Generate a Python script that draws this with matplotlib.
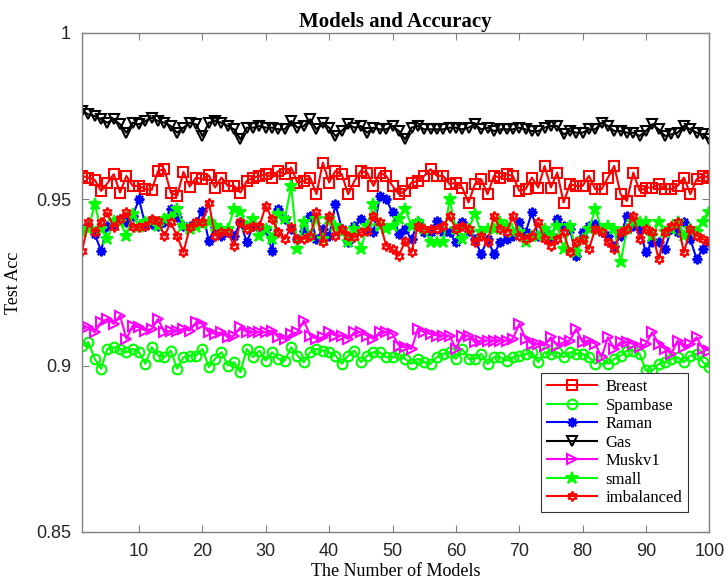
import numpy as np
import matplotlib
matplotlib.use('Agg')
import matplotlib.pyplot as plt

# x positions: model count 1..100
n_models = np.arange(1, 101)

breast = [0.957, 0.9565, 0.9558, 0.9525, 0.9548, 0.9575, 0.952, 0.957, 0.954, 0.954,
          0.953, 0.9528, 0.9585, 0.959, 0.952, 0.951, 0.9582, 0.9538, 0.9565, 0.956,
          0.9572, 0.9535, 0.9565,
          0.954, 0.954, 0.952, 0.9555, 0.9565, 0.957, 0.9575, 0.9565, 0.9585, 0.9575,
          0.9595, 0.955, 0.9555, 0.9565, 0.9515, 0.961, 0.955, 0.9585, 0.9575, 0.9515,
          0.9555, 0.9585, 0.958, 0.954, 0.958,
          0.957, 0.954, 0.9515, 0.9525, 0.955, 0.9555, 0.957, 0.959, 0.957, 0.957,
          0.9545, 0.955, 0.9535, 0.949, 0.9545, 0.956, 0.9515, 0.957, 0.9565, 0.9575,
          0.957, 0.9525, 0.953, 0.9565, 0.9535, 0.960,
          0.9535, 0.958, 0.949, 0.9545, 0.954, 0.954, 0.957, 0.953, 0.953, 0.9565,
          0.960, 0.9515, 0.9495, 0.958, 0.9525, 0.9535, 0.9535, 0.9545, 0.953, 0.953,
          0.954, 0.9565, 0.9515, 0.956, 0.957, 0.9565]

spambase = [0.906, 0.907, 0.902, 0.899, 0.905, 0.9055, 0.905, 0.904, 0.905, 0.904,
            0.9005, 0.9055, 0.903, 0.9025, 0.9045, 0.899, 0.9025, 0.903, 0.903, 0.905,
            0.8995, 0.902, 0.904,
            0.900, 0.901, 0.898, 0.905, 0.9025, 0.9045, 0.9015, 0.904, 0.902, 0.9015,
            0.9055, 0.903, 0.901, 0.904, 0.905, 0.9045, 0.904, 0.903, 0.9005, 0.903,
            0.9045, 0.901, 0.903, 0.904, 0.904,
            0.9025, 0.9025, 0.9035, 0.902, 0.9005, 0.902, 0.901, 0.9005, 0.9025, 0.9035,
            0.904, 0.902, 0.905, 0.902, 0.902, 0.9035, 0.9005, 0.9025, 0.9025, 0.9015,
            0.9025, 0.903, 0.9035, 0.904, 0.901, 0.904,
            0.9035, 0.904, 0.9025, 0.904, 0.9035, 0.9035, 0.9025, 0.9005, 0.902, 0.9005,
            0.902, 0.903, 0.9045, 0.9045, 0.9035, 0.8985, 0.8985, 0.9005, 0.901, 0.902,
            0.9025, 0.901, 0.903, 0.9035, 0.901, 0.8995]

raman = [0.941, 0.942, 0.9395, 0.9345, 0.942, 0.9425, 0.944, 0.943, 0.945, 0.950,
         0.942, 0.9425, 0.942, 0.943, 0.947, 0.9445, 0.942, 0.942, 0.943, 0.9465,
         0.9375, 0.9415, 0.939,
         0.940, 0.939, 0.943, 0.937, 0.942, 0.9415, 0.941, 0.9345, 0.947, 0.944,
         0.941, 0.938, 0.9405, 0.945, 0.938, 0.941, 0.939, 0.9485, 0.941, 0.937,
         0.942, 0.944, 0.941, 0.940, 0.951,
         0.950, 0.946, 0.9395, 0.941, 0.938, 0.943, 0.940, 0.940, 0.9435, 0.940,
         0.940, 0.937, 0.943, 0.9405, 0.938, 0.9335, 0.938, 0.9335, 0.937, 0.938,
         0.939, 0.943, 0.940, 0.946, 0.939, 0.940,
         0.938, 0.944, 0.942, 0.941, 0.933, 0.940, 0.942, 0.9425, 0.940, 0.939,
         0.936, 0.939, 0.945, 0.942, 0.941, 0.934, 0.937, 0.937, 0.935, 0.941,
         0.940, 0.943, 0.938, 0.932, 0.935, 0.937]

gas = [0.9765, 0.9755, 0.975, 0.974, 0.973, 0.974, 0.9725, 0.970, 0.973, 0.9725,
       0.9735, 0.9745, 0.9735, 0.973, 0.972, 0.970, 0.9715, 0.973, 0.9725, 0.969,
       0.973, 0.9735, 0.973,
       0.972, 0.971, 0.968, 0.9715, 0.9715, 0.972, 0.9715, 0.9715, 0.971, 0.971,
       0.9735, 0.9715, 0.972, 0.974, 0.971, 0.973, 0.9715, 0.969, 0.9705, 0.9725,
       0.9715, 0.972, 0.970, 0.9715, 0.971,
       0.971, 0.972, 0.9705, 0.968, 0.9715, 0.972, 0.971, 0.971, 0.971, 0.971,
       0.9715, 0.9715, 0.971, 0.9715, 0.9725, 0.971, 0.9715, 0.9705, 0.971, 0.971,
       0.971, 0.9715, 0.971, 0.9705, 0.9705, 0.9715,
       0.972, 0.972, 0.9695, 0.9705, 0.970, 0.970, 0.971, 0.971, 0.973, 0.972,
       0.9705, 0.9705, 0.970, 0.970, 0.969, 0.9705, 0.9725, 0.971, 0.969, 0.9695,
       0.970, 0.972, 0.971, 0.970, 0.9695, 0.968]

muskv1 = [0.9115, 0.9115, 0.910, 0.913, 0.914, 0.9125, 0.915, 0.908, 0.912, 0.9115,
          0.9105, 0.911, 0.914, 0.910, 0.9105, 0.9105, 0.911, 0.9105, 0.913, 0.9125,
          0.910, 0.9095, 0.910,
          0.9085, 0.909, 0.9115, 0.910, 0.910, 0.910, 0.910, 0.9105, 0.9085, 0.908,
          0.9095, 0.910, 0.9135, 0.909, 0.908, 0.9085, 0.910, 0.909, 0.909, 0.908,
          0.910, 0.910, 0.909, 0.908, 0.910,
          0.910, 0.9095, 0.906, 0.9055, 0.905, 0.911, 0.910, 0.9095, 0.909, 0.909,
          0.909, 0.905, 0.909, 0.909, 0.907, 0.9075, 0.9075, 0.9075, 0.9075, 0.9075,
          0.908, 0.9125, 0.908, 0.9065, 0.9065, 0.906,
          0.9085, 0.906, 0.907, 0.9075, 0.911, 0.907, 0.9075, 0.9065, 0.9025, 0.9085,
          0.905, 0.907, 0.907, 0.9065, 0.9055, 0.9065, 0.910, 0.9065, 0.905, 0.9035,
          0.9075, 0.9055, 0.9065, 0.9085, 0.905, 0.9045]

small = [0.940, 0.941, 0.9485, 0.941, 0.938, 0.9435, 0.943, 0.939, 0.9455, 0.9415,
         0.943, 0.9435, 0.942, 0.944, 0.9445, 0.947, 0.942, 0.941, 0.9415, 0.9425,
         0.943, 0.942, 0.941,
         0.941, 0.947, 0.946, 0.942, 0.944, 0.939, 0.941, 0.938, 0.9455, 0.944,
         0.954, 0.935, 0.943, 0.939, 0.944, 0.938, 0.944, 0.942, 0.940, 0.937,
         0.941, 0.935, 0.942, 0.9485, 0.942,
         0.941, 0.942, 0.944, 0.947, 0.942, 0.943, 0.941, 0.937, 0.937, 0.937,
         0.950, 0.941, 0.938, 0.941, 0.9455, 0.940, 0.941, 0.941, 0.943, 0.942,
         0.940, 0.940, 0.937, 0.939, 0.939, 0.941,
         0.939, 0.942, 0.935, 0.942, 0.934, 0.938, 0.941, 0.947, 0.941, 0.942,
         0.941, 0.931, 0.941, 0.943, 0.943, 0.943, 0.939, 0.943, 0.940, 0.941,
         0.943, 0.939, 0.941, 0.940, 0.943, 0.946]

imbalanced = [0.9345, 0.943, 0.940, 0.943, 0.946, 0.9415, 0.944, 0.946, 0.9415, 0.9415,
              0.942, 0.944, 0.9435, 0.939, 0.943, 0.939, 0.934, 0.9415, 0.943, 0.943,
              0.949, 0.939, 0.940,
              0.940, 0.936, 0.943, 0.941, 0.942, 0.942, 0.948, 0.944, 0.940, 0.938,
              0.9415, 0.938, 0.938, 0.939, 0.946, 0.937, 0.945, 0.939, 0.941, 0.939,
              0.9385, 0.940, 0.9405, 0.945, 0.943,
              0.936, 0.935, 0.933, 0.9375, 0.934, 0.942, 0.941, 0.941, 0.941, 0.942,
              0.945, 0.941, 0.942, 0.941, 0.937, 0.939, 0.937, 0.945, 0.941, 0.940,
              0.945, 0.939, 0.938, 0.939, 0.943, 0.938,
              0.936, 0.938, 0.940, 0.934, 0.937, 0.938, 0.935, 0.941, 0.940, 0.937,
              0.935, 0.940, 0.941, 0.945, 0.938, 0.941, 0.940, 0.932, 0.940, 0.942,
              0.943, 0.934, 0.941, 0.939, 0.938, 0.937]

series = [
    ('Breast',     breast,     (1, 0, 0), 's',       'none'),
    ('Spambase',   spambase,   (0, 1, 0), 'o',       'none'),
    ('Raman',      raman,      (0, 0, 1), (8, 2, 0), 'none'),
    ('Gas',        gas,        (0, 0, 0), 'v',       'none'),
    ('Muskv1',     muskv1,     (1, 0, 1), '>',       'none'),
    ('small',      small,      (0, 1, 0), '*',       (0, 1, 0)),
    ('imbalanced', imbalanced, (1, 0, 0), (6, 1, 0), 'none'),
]

serif = 'Liberation Serif'
sans = 'Liberation Sans'

fig = plt.figure(figsize=(7.26, 5.87), dpi=100)
ax = fig.add_axes([0.113, 0.094, 0.864, 0.850])

for name, vals, col, mk, fc in series:
    ms = 9 if mk == '*' else 7
    ax.plot(n_models, vals, color=col, marker=mk, markersize=ms,
            markerfacecolor=fc, markeredgecolor=col, markeredgewidth=1.5,
            linewidth=1.5, label=name)

ax.set_xlim(1, 100)
ax.set_ylim(0.85, 1.0)
ax.set_xticks(np.arange(10, 101, 10))
ax.set_yticks([0.85, 0.9, 0.95, 1.0])
ax.set_yticklabels(['0.85', '0.9', '0.95', '1'])

axis_col = (0.15, 0.15, 0.15)
for sp in ax.spines.values():
    sp.set_color((0.5, 0.5, 0.5))
    sp.set_linewidth(1.0)
ax.tick_params(direction='in', top=True, right=True, length=5,
               color=(0.5, 0.5, 0.5), labelcolor=axis_col, labelsize=13, pad=8)
for lab in ax.get_xticklabels() + ax.get_yticklabels():
    lab.set_family(sans)

ax.set_title('Models and Accuracy', fontfamily=serif, fontweight='bold',
             fontsize=15, pad=4)
ax.set_xlabel('The Number of Models', fontfamily=serif, fontsize=13, labelpad=2)
ax.set_ylabel('Test Acc', fontfamily=serif, fontsize=13, labelpad=10)

leg = ax.legend(loc='lower right', bbox_to_anchor=(0.966, 0.04), borderaxespad=0,
                prop={'family': serif, 'size': 12}, fancybox=False,
                handlelength=3.0, borderpad=0.35, labelspacing=0.15,
                handletextpad=0.5, framealpha=1)
leg.get_frame().set_edgecolor((0.2, 0.2, 0.2))
leg.get_frame().set_linewidth(0.8)

fig.savefig('out.png', dpi=100)
